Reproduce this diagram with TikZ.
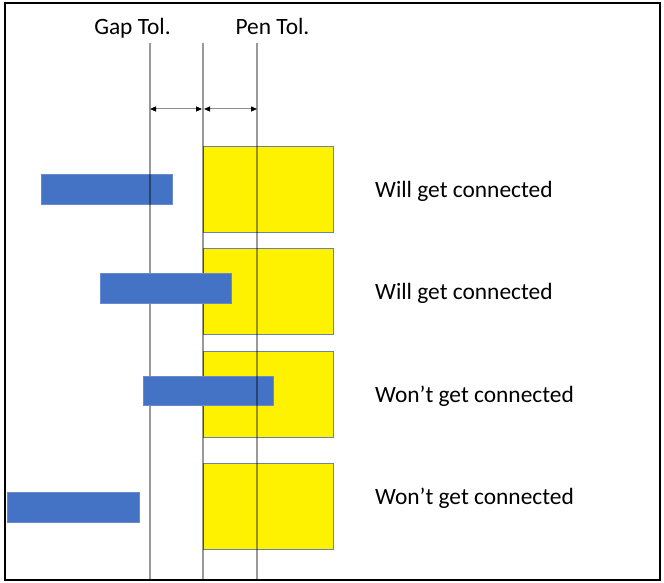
\documentclass[tikz,border=0pt]{standalone}
\usepackage{fontspec}
\setmainfont{Carlito}
\usetikzlibrary{arrows.meta}
\definecolor{barblue}{HTML}{4472C4}
\definecolor{barline}{HTML}{6A8AD0}
\definecolor{padline}{HTML}{7080A8}

\begin{document}
\begin{tikzpicture}[x=1pt,y=-1pt,line join=miter,
  tol/.style={draw=black,opacity=0.4,line width=1.6pt},
  pad/.style={draw=padline,fill=yellow,line width=0.8pt},
  bar/.style={draw=barline,fill=barblue,line width=0.8pt},
  txt/.style={font=\fontsize{23.4}{28}\selectfont,inner sep=0pt},
  dim/.style={draw=black!45,line width=1pt,{Triangle[length=6pt,width=5pt,black]}-{Triangle[length=6pt,width=5pt,black]}}]
  \useasboundingbox (0,0) rectangle (664,583);
  \draw[line width=1.8pt] (5,3) rectangle (660,580);
  % gelbe Flaechen
  \foreach \y in {146,248,351,463}
    \path[pad] (203,\y) rectangle (333,\y+86);
  \path[bar] (41,174) rectangle (172,204);
  \path[bar] (7,492) rectangle (139,522);
  % Toleranzlinien
  \draw[tol] (150,43) -- (150,579);
  \draw[tol] (203,43) -- (203,579);
  \path[bar] (100,273) rectangle (231,303);
  \path[bar] (143,376) rectangle (273,405);
  \draw[tol] (257,43) -- (257,579);
  % Bemassung
  \coordinate (gapL) at (150,109);
  \coordinate (gapR) at (202,109);
  \coordinate (penL) at (204,109);
  \coordinate (penR) at (257,109);
  \draw[dim] (gapL) -- (gapR);
  \draw[dim] (penL) -- (penR);
  \node[txt,anchor=base] (gap) at (132.5,35) {Gap Tol.};
  \node[txt,anchor=base] (pen) at (272.5,35) {Pen Tol.};
  \foreach \y/\t [count=\i] in {197/Will get connected, 299/Will get connected,
      402/Won’t get connected, 504/Won’t get connected}
    \node[txt,anchor=base west] (res\i) at (375,\y) {\t};
\end{tikzpicture}
\end{document}
